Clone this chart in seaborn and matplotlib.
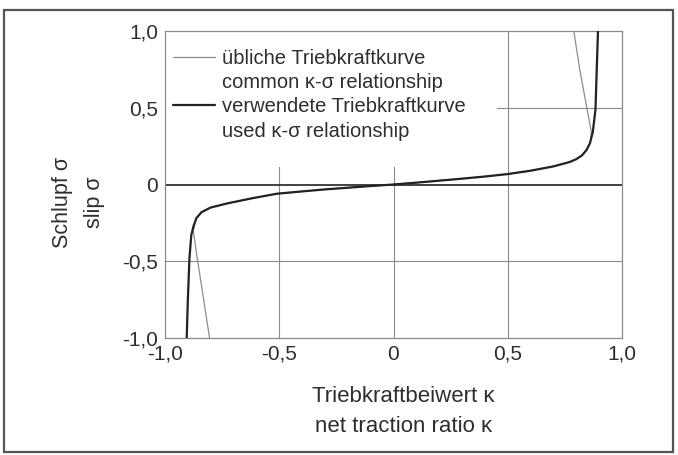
import pandas as pd
import matplotlib.pyplot as plt
from matplotlib.lines import Line2D
from matplotlib.patches import Rectangle
import seaborn as sns

# used kappa-sigma relationship
used_kappa = [-0.905, -0.900, -0.893, -0.885, -0.875, -0.863, -0.84, -0.80, -0.73,
              -0.62, -0.51, -0.40, -0.30, -0.20, -0.10, 0.0, 0.10, 0.20, 0.30, 0.40,
              0.50, 0.60, 0.70, 0.77, 0.80, 0.825, 0.845, 0.86, 0.872, 0.884, 0.89, 0.895]
used_sigma = [-1.0, -0.75, -0.48, -0.33, -0.27, -0.22, -0.18, -0.15, -0.124,
              -0.09, -0.06, -0.045, -0.032, -0.021, -0.010, 0.0, 0.012, 0.025, 0.038, 0.052,
              0.068, 0.09, 0.118, 0.146, 0.165, 0.19, 0.225, 0.27, 0.34, 0.49, 0.775, 1.0]

# common kappa-sigma relationship (turns back after the traction peak)
common_kappa = [-0.805, -0.836, -0.862, -0.876, -0.863, -0.84, -0.80, -0.73,
                -0.62, -0.51, -0.40, -0.30, -0.20, -0.10, 0.0, 0.10, 0.20, 0.30, 0.40,
                0.50, 0.60, 0.70, 0.77, 0.80, 0.825, 0.845, 0.86, 0.866, 0.846, 0.815, 0.789]
common_sigma = [-1.0, -0.7, -0.45, -0.30, -0.22, -0.18, -0.15, -0.124,
                -0.09, -0.06, -0.045, -0.032, -0.021, -0.010, 0.0, 0.012, 0.025, 0.038, 0.052,
                0.068, 0.09, 0.118, 0.146, 0.165, 0.19, 0.225, 0.27, 0.34, 0.5, 0.75, 1.0]

ticks = [-1.0, -0.5, 0.0, 0.5, 1.0]
tick_labels = ["-1,0", "-0,5", "0", "0,5", "1,0"]
legend_labels = ["übliche Triebkraftkurve", "common κ-σ relationship",
                 "verwendete Triebkraftkurve", "used κ-σ relationship"]

used = pd.DataFrame({"kappa": used_kappa, "sigma": used_sigma})
common = pd.DataFrame({"kappa": common_kappa, "sigma": common_sigma})

sns.set_theme(style="white")
plt.rcParams["font.family"] = ["Liberation Sans", "DejaVu Sans"]
text_col = "#2e2e2e"
grid_col = "#8a8a8a"

fig = plt.figure(figsize=(6.78, 4.55), dpi=100)
ax = fig.add_axes([165 / 678, 1 - 338 / 455, 457 / 678, 307 / 455])

# grid lines
for v in [-0.5, 0.0, 0.5]:
    ax.axvline(v, color=grid_col, lw=0.8, zorder=1)
for h in [-0.5, 0.5]:
    ax.axhline(h, color=grid_col, lw=0.8, zorder=1)
ax.axhline(0, color="#333333", lw=1.3, zorder=1)

# white area behind the legend
ax.add_patch(Rectangle((0, 0.556), 0.727, 0.444, transform=ax.transAxes,
                       facecolor="white", edgecolor="none", zorder=1.5))

sns.lineplot(data=common, x="kappa", y="sigma", sort=False, estimator=None,
             color="#8c8c8c", lw=0.9, ax=ax, zorder=2)
sns.lineplot(data=used, x="kappa", y="sigma", sort=False, estimator=None,
             color="#222222", lw=1.6, ax=ax, zorder=3)

ax.set_xlim(-1, 1)
ax.set_ylim(-1, 1)
ax.set_xticks(ticks)
ax.set_xticklabels(tick_labels)
ax.set_yticks(ticks)
ax.set_yticklabels(tick_labels)
ax.tick_params(length=0, labelsize=15, labelcolor=text_col, pad=5)
for sp in ax.spines.values():
    sp.set_color(grid_col)
    sp.set_linewidth(0.9)

ax.set_xlabel("Triebkraftbeiwert κ\nnet traction ratio κ", fontsize=16,
              color=text_col, labelpad=16, linespacing=1.55)
ax.xaxis.label.set_x(0.521)
ax.set_ylabel("")
ax.text(-0.19, 0.443, "Schlupf σ\nslip σ", transform=ax.transAxes, rotation=90,
        ha="center", va="center", multialignment="center", fontsize=15.5,
        color=text_col, linespacing=1.7)

handles = [Line2D([], [], color="#8c8c8c", lw=0.9), Line2D([], [], color="none"),
           Line2D([], [], color="#222222", lw=1.6), Line2D([], [], color="none")]
ax.legend(handles, legend_labels, loc="upper left", bbox_to_anchor=(0.0175, 0.94),
          frameon=False, fontsize=14.5, handlelength=2.1, handletextpad=0.35,
          labelspacing=0.25, borderpad=0, borderaxespad=0, labelcolor=text_col)

# outer frame
fig.patches.append(Rectangle((4 / 678, 3 / 455), 669 / 678, 442 / 455,
                             transform=fig.transFigure, fill=False,
                             edgecolor="#555555", lw=1.6))

fig.savefig("out.png", dpi=100)
